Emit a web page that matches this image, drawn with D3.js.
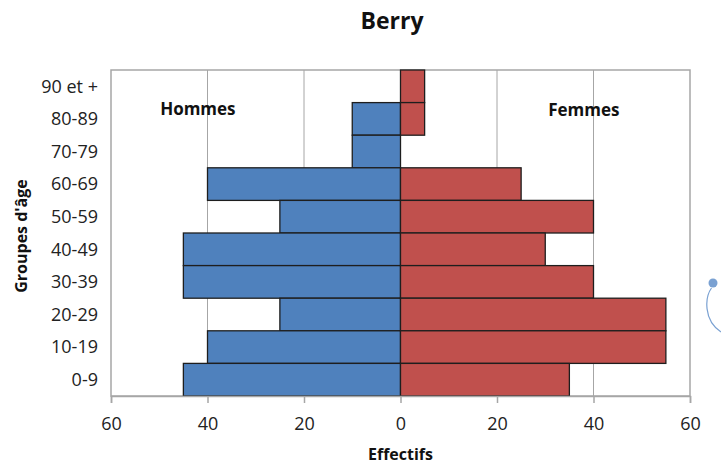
<!DOCTYPE html>
<html>
<head>
<meta charset="utf-8">
<script src="https://cdn.jsdelivr.net/npm/d3@7"></script>
<style>
  html, body { margin: 0; padding: 0; background: #fff; }
  svg { display: block; font-family: "Open Sans", sans-serif; }
</style>
</head>
<body>
<script>
// Age groups, top to bottom
const ageGroups = ["90 et +", "80-89", "70-79", "60-69", "50-59", "40-49", "30-39", "20-29", "10-19", "0-9"];
// Headcount per age group
const hommes = [0, 10, 10, 40, 25, 45, 45, 25, 40, 45];
const femmes = [5, 5, 0, 25, 40, 30, 40, 55, 55, 35];
const xTicks = [-60, -40, -20, 0, 20, 40, 60];

const W = 721, H = 470;
const plot = { left: 111, right: 690, top: 70, bottom: 396 };

const svg = d3.select("body").append("svg").attr("width", W).attr("height", H);

const x = d3.scaleLinear().domain([-60, 60]).range([plot.left, plot.right]);
const y = d3.scaleBand().domain(ageGroups).range([plot.top, plot.bottom]).padding(0);

// Vertical gridlines
svg.append("g").selectAll("line")
  .data(xTicks.filter(t => t !== -60 && t !== 60))
  .join("line")
  .attr("x1", d => x(d)).attr("x2", d => x(d))
  .attr("y1", plot.top).attr("y2", plot.bottom)
  .attr("stroke", "#a6a6a6").attr("stroke-width", 1);

// Plot frame
svg.append("rect")
  .attr("x", plot.left).attr("y", plot.top)
  .attr("width", plot.right - plot.left).attr("height", plot.bottom - plot.top)
  .attr("fill", "none").attr("stroke", "#a6a6a6").attr("stroke-width", 1.5);

// Bars: men to the left, women to the right
svg.append("g").selectAll("rect")
  .data(ageGroups.map((g, i) => ({ g, v: hommes[i] })).filter(d => d.v > 0))
  .join("rect")
  .attr("x", d => x(-d.v)).attr("y", d => y(d.g))
  .attr("width", d => x(0) - x(-d.v)).attr("height", y.bandwidth())
  .attr("fill", "#4f81bd").attr("stroke", "#1e1e1e").attr("stroke-width", 1.3);

svg.append("g").selectAll("rect")
  .data(ageGroups.map((g, i) => ({ g, v: femmes[i] })).filter(d => d.v > 0))
  .join("rect")
  .attr("x", x(0)).attr("y", d => y(d.g))
  .attr("width", d => x(d.v) - x(0)).attr("height", y.bandwidth())
  .attr("fill", "#c0504d").attr("stroke", "#1e1e1e").attr("stroke-width", 1.3);

// Bottom axis with absolute values
const xAxis = d3.axisBottom(x).tickValues(xTicks).tickFormat(d => Math.abs(d)).tickSize(7).tickPadding(14);
const gx = svg.append("g").attr("transform", `translate(0,${plot.bottom})`).call(xAxis);
gx.select(".domain").attr("stroke", "#a6a6a6").attr("stroke-width", 1.5);
gx.selectAll(".tick line").attr("stroke", "#a6a6a6").attr("stroke-width", 1.5);
gx.selectAll("text").attr("font-size", 18).attr("fill", "#222")
  .attr("font-family", "'Open Sans', sans-serif");

// Age group labels
svg.append("g").selectAll("text")
  .data(ageGroups)
  .join("text")
  .attr("x", plot.left - 13)
  .attr("y", d => y(d) + y.bandwidth() / 2)
  .attr("dy", "0.35em")
  .attr("text-anchor", "end")
  .attr("font-size", 18).attr("fill", "#222")
  .text(d => d);

// Titles
svg.append("text").attr("x", 392).attr("y", 29).attr("text-anchor", "middle")
  .attr("font-size", 23).attr("font-weight", "bold").attr("fill", "#111").text("Berry");

svg.append("text").attr("x", x(0)).attr("y", 460).attr("text-anchor", "middle")
  .attr("font-size", 16).attr("font-weight", "bold").attr("fill", "#111").text("Effectifs");

svg.append("text")
  .attr("transform", "translate(27,236) rotate(-90)")
  .attr("text-anchor", "middle")
  .attr("font-size", 16).attr("font-weight", "bold").attr("fill", "#111").text("Groupes d'âge");

// Series captions
svg.append("text").attr("x", x(-42)).attr("y", 115).attr("text-anchor", "middle")
  .attr("font-size", 17).attr("font-weight", "bold").attr("fill", "#111").text("Hommes");
svg.append("text").attr("x", x(38)).attr("y", 116).attr("text-anchor", "middle")
  .attr("font-size", 17).attr("font-weight", "bold").attr("fill", "#111").text("Femmes");

// Selection handle at the right edge
svg.append("path")
  .attr("d", "M711.5,288 C705,297 703,320 721,332")
  .attr("fill", "none").attr("stroke", "#7aa1d2").attr("stroke-width", 1.2);
svg.append("circle").attr("cx", 713).attr("cy", 283).attr("r", 4.5).attr("fill", "#7aa1d2");
</script>
</body>
</html>
